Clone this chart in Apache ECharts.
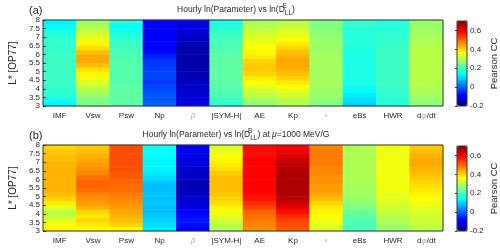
<!DOCTYPE html>
<html><head><meta charset="utf-8">
<script src="https://cdn.jsdelivr.net/npm/echarts@6/dist/echarts.min.js"></script>
<style>html,body{margin:0;padding:0;background:#fff}#c{width:500px;height:251px}</style>
</head><body><div id="c"></div>
<script>
// Column categories (x axis)
const categories = ['IMF','Vsw','Psw','Np','β','|SYM-H|','AE','Kp','ε','eBs','HWR','dφ/dt'];
// L* band centres (0.25 wide bands from 3 to 8)
const lStarBands = ['3.125','3.375','3.625','3.875','4.125','4.375','4.625','4.875','5.125','5.375',
                    '5.625','5.875','6.125','6.375','6.625','6.875','7.125','7.375','7.625','7.875'];
const ccTicks = [-0.2, 0, 0.2, 0.4, 0.6];

// Panel (a): Pearson CC, values from L*=3.125 (first) to 7.875 (last)
const a_IMF  = [0.13,0.15,0.17,0.18,0.18,0.19,0.19,0.19,0.19,0.19,0.19,0.19,0.19,0.18,0.18,0.18,0.17,0.16,0.14,0.13];
const a_Vsw  = [0.24,0.25,0.27,0.29,0.31,0.33,0.35,0.37,0.39,0.42,0.44,0.44,0.42,0.39,0.37,0.35,0.33,0.31,0.29,0.27];
const a_Psw  = [0.22,0.22,0.22,0.22,0.22,0.21,0.21,0.21,0.21,0.21,0.21,0.20,0.20,0.20,0.19,0.18,0.17,0.15,0.14,0.17];
const a_Np   = [0.00,-0.01,-0.01,-0.02,-0.03,-0.04,-0.03,-0.03,-0.03,-0.04,-0.04,-0.06,-0.08,-0.09,-0.09,-0.09,-0.09,-0.09,-0.09,-0.09];
const a_Beta = [-0.10,-0.12,-0.13,-0.13,-0.14,-0.14,-0.15,-0.16,-0.16,-0.16,-0.16,-0.16,-0.16,-0.16,-0.15,-0.14,-0.13,-0.12,-0.11,-0.11];
const a_SYMH = [0.17,0.19,0.20,0.21,0.21,0.22,0.22,0.22,0.22,0.22,0.22,0.22,0.21,0.21,0.20,0.20,0.19,0.18,0.17,0.16];
const a_AE   = [0.26,0.28,0.30,0.32,0.34,0.36,0.38,0.40,0.41,0.41,0.40,0.38,0.37,0.36,0.35,0.34,0.33,0.31,0.30,0.28];
const a_Kp   = [0.29,0.30,0.32,0.34,0.36,0.38,0.40,0.42,0.43,0.44,0.44,0.43,0.42,0.40,0.38,0.36,0.34,0.33,0.31,0.30];
const a_Eps  = [0.25,0.26,0.27,0.27,0.28,0.28,0.28,0.28,0.28,0.28,0.28,0.28,0.28,0.27,0.27,0.27,0.26,0.26,0.25,0.25];
const a_eBs  = [0.10,0.11,0.12,0.14,0.15,0.16,0.16,0.16,0.16,0.16,0.16,0.16,0.16,0.17,0.17,0.17,0.17,0.17,0.18,0.18];
const a_HWR  = [0.17,0.17,0.18,0.18,0.19,0.19,0.19,0.19,0.19,0.19,0.19,0.19,0.19,0.19,0.18,0.18,0.18,0.17,0.17,0.17];
const a_dPhi = [0.26,0.27,0.28,0.29,0.29,0.30,0.30,0.30,0.30,0.30,0.30,0.30,0.30,0.30,0.29,0.29,0.28,0.28,0.27,0.27];

// Panel (b)
const b_IMF  = [0.37,0.36,0.34,0.31,0.30,0.34,0.38,0.40,0.42,0.43,0.43,0.43,0.43,0.43,0.43,0.43,0.42,0.42,0.41,0.40];
const b_Vsw  = [0.37,0.38,0.40,0.38,0.40,0.43,0.45,0.46,0.47,0.49,0.50,0.50,0.49,0.47,0.46,0.45,0.44,0.43,0.42,0.41];
const b_Psw  = [0.37,0.40,0.42,0.43,0.44,0.45,0.46,0.47,0.48,0.49,0.49,0.50,0.51,0.51,0.52,0.52,0.52,0.52,0.52,0.52];
const b_Np   = [0.12,0.11,0.10,0.09,0.08,0.08,0.09,0.08,0.09,0.08,0.08,0.09,0.11,0.12,0.13,0.13,0.13,0.14,0.14,0.15];
const b_Beta = [-0.10,-0.08,-0.07,-0.08,-0.09,-0.11,-0.12,-0.13,-0.14,-0.15,-0.15,-0.15,-0.14,-0.14,-0.13,-0.12,-0.11,-0.11,-0.10,-0.10];
const b_SYMH = [0.29,0.30,0.32,0.34,0.35,0.37,0.39,0.40,0.41,0.42,0.42,0.42,0.42,0.41,0.39,0.38,0.37,0.36,0.34,0.33];
const b_AE   = [0.46,0.47,0.48,0.49,0.50,0.53,0.55,0.57,0.58,0.59,0.59,0.59,0.59,0.59,0.59,0.59,0.59,0.58,0.58,0.58];
const b_Kp   = [0.51,0.52,0.53,0.55,0.58,0.61,0.63,0.65,0.66,0.66,0.66,0.66,0.66,0.66,0.65,0.65,0.63,0.62,0.60,0.59];
const b_Eps  = [0.33,0.34,0.35,0.36,0.37,0.38,0.40,0.42,0.44,0.45,0.45,0.46,0.46,0.47,0.47,0.48,0.48,0.48,0.48,0.47];
const b_eBs  = [0.20,0.20,0.21,0.22,0.23,0.25,0.26,0.27,0.28,0.28,0.28,0.29,0.29,0.29,0.29,0.29,0.29,0.29,0.29,0.29];
const b_HWR  = [0.27,0.28,0.29,0.30,0.31,0.32,0.33,0.34,0.34,0.35,0.35,0.35,0.35,0.35,0.35,0.35,0.35,0.35,0.35,0.35];
const b_dPhi = [0.30,0.31,0.32,0.32,0.33,0.34,0.35,0.36,0.37,0.38,0.39,0.40,0.41,0.42,0.43,0.44,0.44,0.43,0.42,0.41];

const panelA = [a_IMF,a_Vsw,a_Psw,a_Np,a_Beta,a_SYMH,a_AE,a_Kp,a_Eps,a_eBs,a_HWR,a_dPhi];
const panelB = [b_IMF,b_Vsw,b_Psw,b_Np,b_Beta,b_SYMH,b_AE,b_Kp,b_Eps,b_eBs,b_HWR,b_dPhi];

function toCells(panel){
  const out = [];
  panel.forEach((col, xi) => col.forEach((v, yi) => out.push([xi, yi, v])));
  return out;
}

const jet = ['#000080','#0000ff','#0080ff','#00ffff','#80ff80','#ffff00','#ff8000','#ff0000','#800000'];
const txt = '#262626';
const FONT = 'Liberation Sans';

function xLabel(v){
  if (v === 'β') return '{g|β}';
  if (v === 'ε') return '{gs|ε}';
  if (v === 'dφ/dt') return 'd{g|φ}/dt';
  return v;
}
const xRich = {
  g: {color:'#aaaaaa', fontStyle:'italic', fontSize:8, fontFamily:FONT},
  gs:{color:'#aaaaaa', fontSize:6, fontFamily:FONT}
};

const P = [{top:20},{top:145}];
const grids = [], xAxes = [], yAxes = [], series = [], visualMaps = [];
P.forEach((p, i) => {
  grids.push({left:29, top:p.top, width:414, height:86, show:true, borderColor:'#333', borderWidth:1, backgroundColor:'transparent', z:10});
  xAxes.push({type:'category', gridIndex:i*2, data:categories, position:'bottom',
    axisLine:{show:false}, axisTick:{show:false},
    axisLabel:{interval:0, color:txt, fontSize:8, fontFamily:FONT, margin:6, formatter:xLabel, rich:xRich}});
  const yCatIndex = yAxes.length;
  yAxes.push({type:'category', gridIndex:i*2, data:lStarBands, show:false});
  yAxes.push({type:'value', gridIndex:i*2, min:3, max:8, interval:0.5, position:'left',
    axisLine:{show:false}, splitLine:{show:false},
    axisTick:{show:true, inside:true, length:3, lineStyle:{color:'#333'}},
    axisLabel:{color:txt, fontSize:8, fontFamily:FONT, margin:3},
    name:'L* [OP77]', nameLocation:'middle', nameGap:19, nameTextStyle:{color:txt, fontSize:10, fontFamily:FONT}, z:11});
  // colorbar grid
  grids.push({left:457, top:p.top+1, width:10, height:85, show:true, borderColor:'#333', borderWidth:1, backgroundColor:'transparent', z:10});
  xAxes.push({type:'value', gridIndex:i*2+1, min:0, max:1, show:false});
  yAxes.push({type:'value', gridIndex:i*2+1, min:-0.2, max:0.7, position:'right',
    axisLine:{show:false}, splitLine:{show:false},
    axisTick:{show:true, inside:true, length:2, lineStyle:{color:'#333'}, customValues:ccTicks},
    axisLabel:{color:txt, fontSize:8, fontFamily:FONT, margin:3, customValues:ccTicks},
    name:'Pearson CC', nameLocation:'middle', nameGap:22, nameTextStyle:{color:txt, fontSize:9.5, fontFamily:FONT}, z:11});
  series.push({type:'heatmap', xAxisIndex:i*2, yAxisIndex:yCatIndex, data:toCells(i===0?panelA:panelB),
    emphasis:{disabled:true}, progressive:0});
  visualMaps.push({type:'continuous', min:-0.2, max:0.7, seriesIndex:i, calculable:false, hoverLink:false,
    left:457, top:p.top+1, itemWidth:10, itemHeight:85, padding:0, inRange:{color:jet}, text:null});
});

const titleRich = {
  n:{fontSize:8.5, color:txt, fontFamily:FONT, lineHeight:14},
  sup:{fontSize:6.5, color:txt, fontFamily:FONT, verticalAlign:'top', width:0, lineHeight:14},
  sub:{fontSize:6.5, color:txt, fontFamily:FONT, verticalAlign:'bottom', lineHeight:14}
};
const titles = [
  {text:'(a)', left:29, top:5, textStyle:{fontSize:11, fontWeight:'normal', color:txt, fontFamily:FONT}, padding:0},
  {text:'{n|Hourly ln(Parameter) vs ln(D}{sup|E}{sub|LL}{n|)}', left:236, textAlign:'center', top:3, padding:0,
   textStyle:{fontSize:8.5, fontWeight:'normal', color:txt, rich:titleRich}},
  {text:'(b)', left:29, top:130, textStyle:{fontSize:11, fontWeight:'normal', color:txt, fontFamily:FONT}, padding:0},
  {text:'{n|Hourly ln(Parameter) vs ln(D}{sup|B}{sub|LL}{n|) at }{mu|μ}{n|=1000 MeV/G}', left:236, textAlign:'center', top:128, padding:0,
   textStyle:{fontSize:8.5, fontWeight:'normal', color:txt, rich:Object.assign({mu:{fontSize:8.5, color:txt, fontStyle:'italic', fontFamily:FONT, lineHeight:14}}, titleRich)}}
];

const chart = echarts.init(document.getElementById('c'), null, {renderer:'canvas'});
chart.setOption({
  backgroundColor:'#fff',
  animation:false,
  textStyle:{fontFamily:FONT},
  title:titles,
  grid:grids, xAxis:xAxes, yAxis:yAxes, series:series, visualMap:visualMaps
});
</script></body></html>
